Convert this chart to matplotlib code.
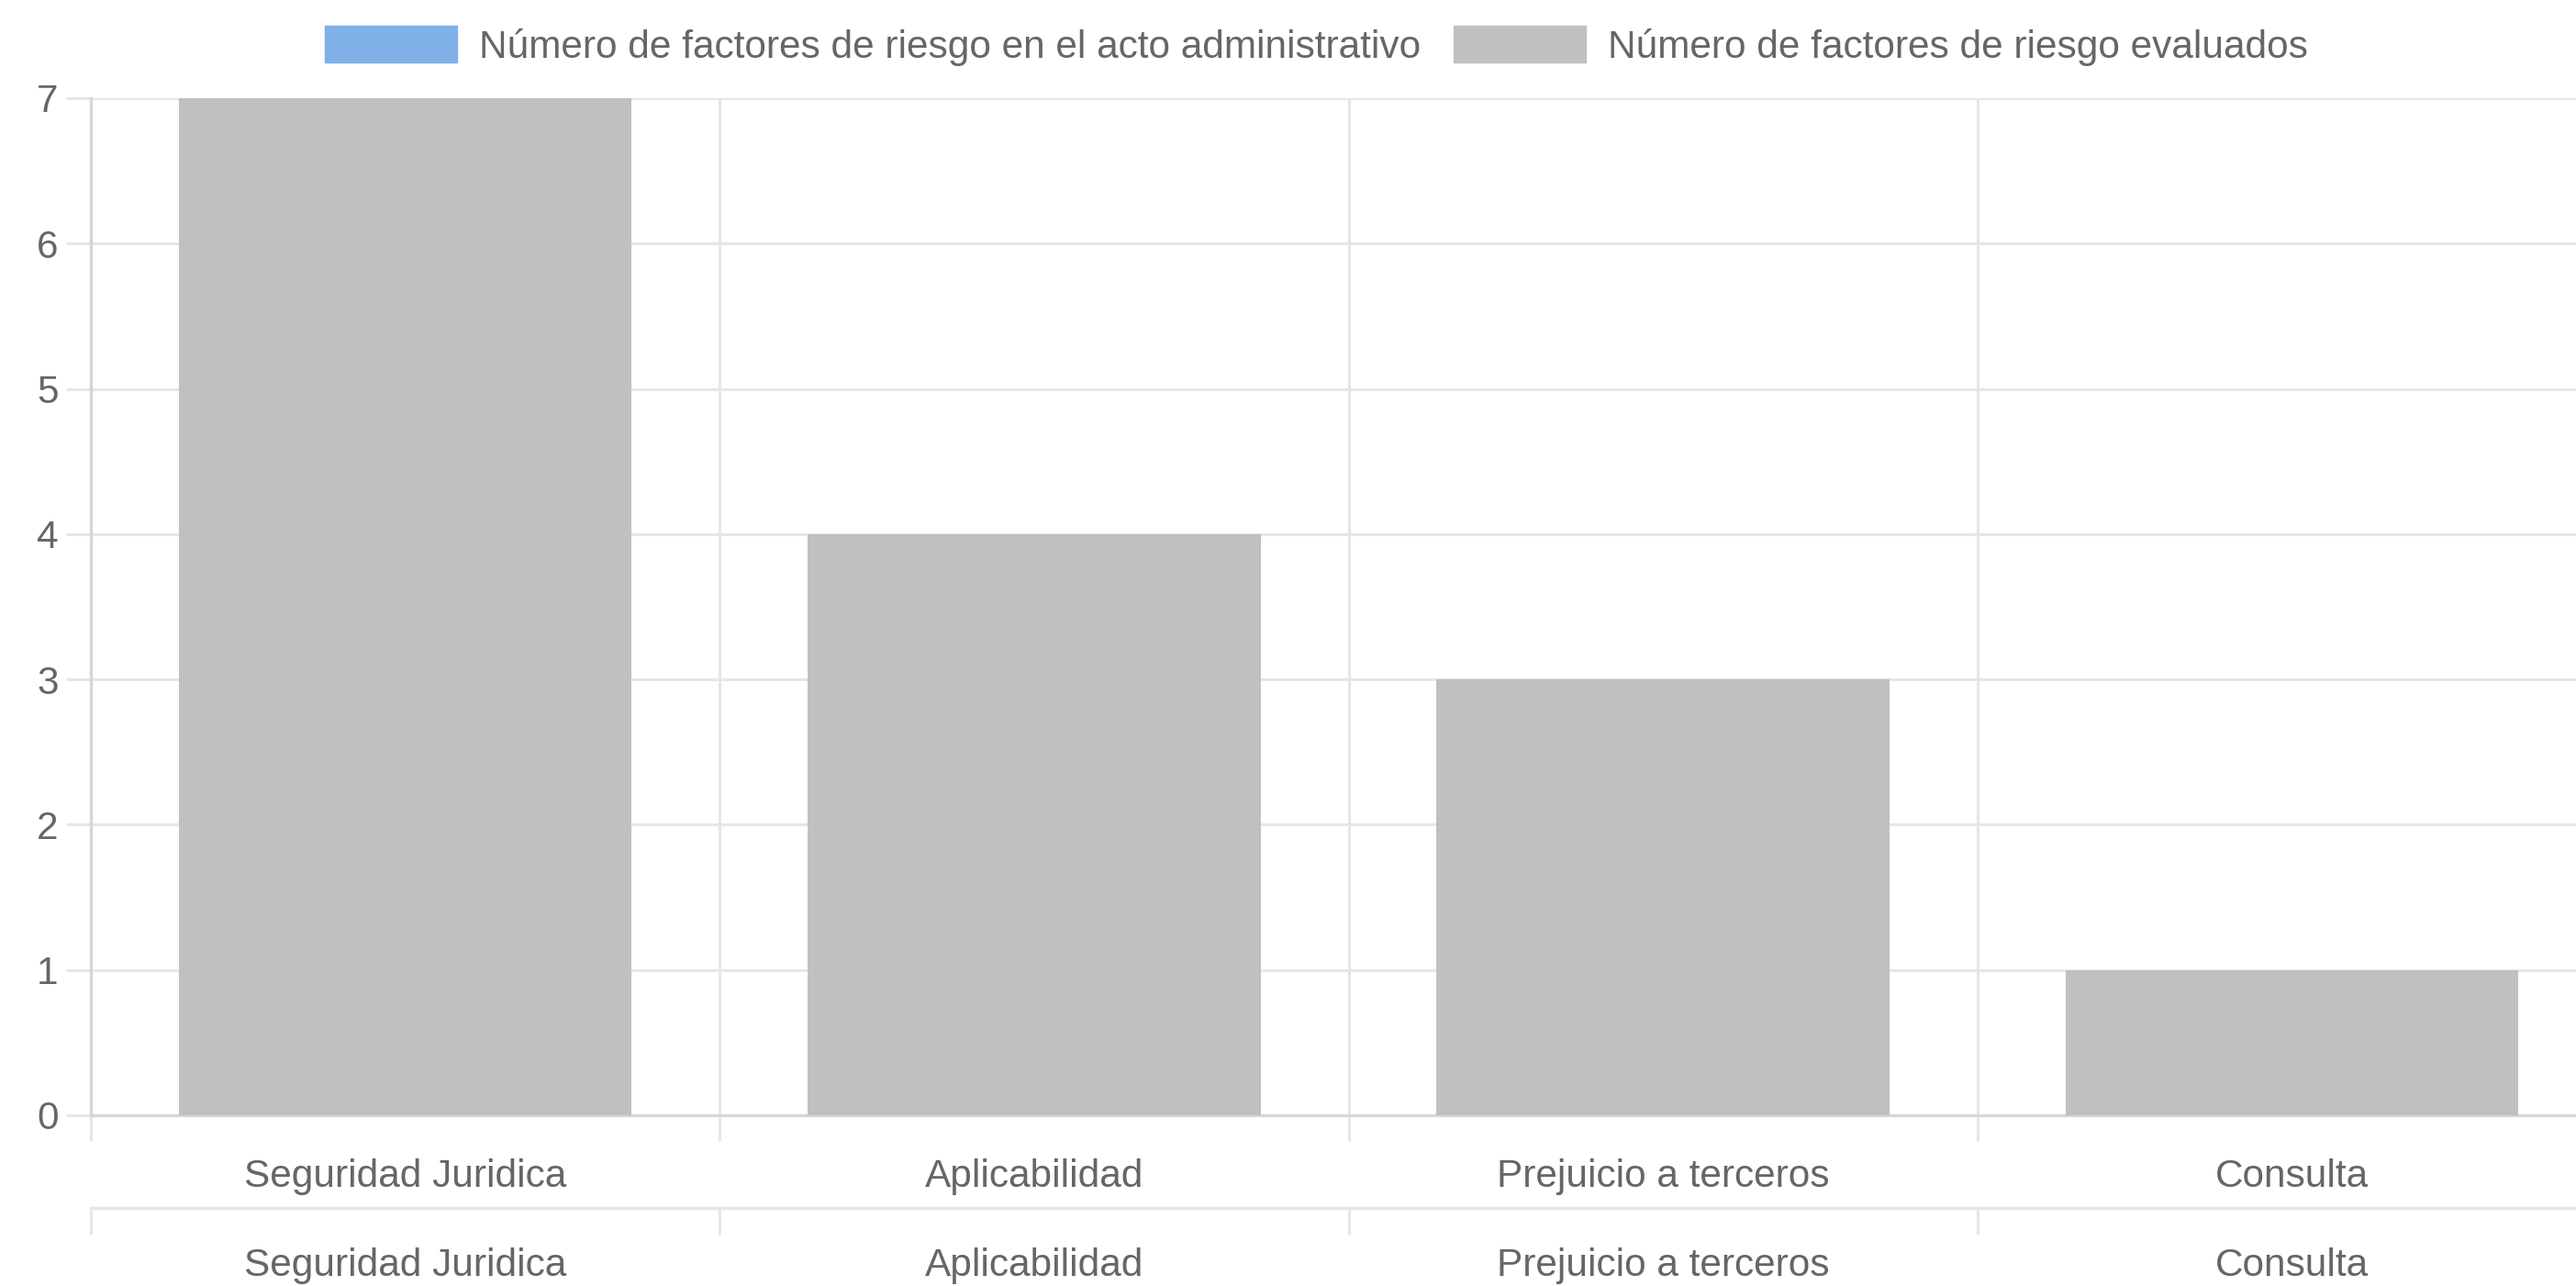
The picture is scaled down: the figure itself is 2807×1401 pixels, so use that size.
import matplotlib
matplotlib.use("Agg")
import matplotlib.pyplot as plt
from matplotlib.patches import Patch
import numpy as np

plt.rcParams['font.family'] = ['Liberation Sans', 'DejaVu Sans']

categories = ["Seguridad Juridica", "Aplicabilidad", "Prejuicio a terceros", "Consulta"]
series_names = ["Número de factores de riesgo en el acto administrativo",
                "Número de factores de riesgo evaluados"]
acto_values = [0, 0, 0, 0]
evaluados_values = [7, 4, 3, 1]
y_ticks = [0, 1, 2, 3, 4, 5, 6, 7]

W, H = 2807, 1401
fig = plt.figure(figsize=(W / 100, H / 100), dpi=100)
fig.patch.set_facecolor('white')

left_px, right_px, top_px, bottom_px = 99, 2840, 107, 1215
ax = fig.add_axes([left_px / W, 1 - bottom_px / H,
                   (right_px - left_px) / W, (bottom_px - top_px) / H])

x = np.arange(len(categories))
blue = '#80b0e8'
grey = '#c0c0c0'
ax.bar(x, acto_values, width=0.72, color=blue, zorder=2)
ax.bar(x, evaluados_values, width=0.72, color=grey, zorder=3)

ax.set_xlim(-0.5, len(categories) - 0.5)
ax.set_ylim(0, 7)

grid_c = '#e6e6e6'
axis_c = '#d6d6d6'
txt_c = '#666666'
fs = 30.5

ax.set_axisbelow(True)
for s in ['top', 'right']:
    ax.spines[s].set_visible(False)
ax.spines['left'].set_color(axis_c)
ax.spines['left'].set_linewidth(2.4)
ax.spines['bottom'].set_color(axis_c)
ax.spines['bottom'].set_linewidth(2.4)

ax.set_yticks(y_ticks)
ax.set_yticklabels([str(v) for v in y_ticks])
ax.tick_params(axis='y', which='major', length=19.5, width=2.2, color=grid_c,
               labelsize=fs, labelcolor=txt_c, pad=6)
ax.yaxis.grid(True, color=grid_c, linewidth=2.2)

bounds = np.arange(-0.5, len(categories), 1.0)
ax.set_xticks(bounds)
ax.set_xticklabels([''] * len(bounds))
ax.set_xticks(x, minor=True)
ax.set_xticklabels(categories, minor=True)
ax.tick_params(axis='x', which='major', length=20, width=2.2, color=grid_c)
ax.tick_params(axis='x', which='minor', length=0, labelsize=fs,
               labelcolor=txt_c, pad=34)
ax.xaxis.grid(True, which='major', color=grid_c, linewidth=2.2)

# second x axis (one per dataset)
loc2 = -(1316 - bottom_px) / (bottom_px - top_px)
sec = ax.secondary_xaxis(loc2)
sec.spines['bottom'].set_color(grid_c)
sec.spines['bottom'].set_linewidth(2.4)
sec.set_xticks(bounds)
sec.set_xticklabels([''] * len(bounds))
sec.set_xticks(x, minor=True)
sec.set_xticklabels(categories, minor=True)
sec.tick_params(axis='x', which='major', length=21, width=2.2, color=grid_c)
sec.tick_params(axis='x', which='minor', length=0, labelsize=fs,
                labelcolor=txt_c, pad=31)

handles = [Patch(facecolor=blue, edgecolor=blue, label=series_names[0]),
           Patch(facecolor=grey, edgecolor=grey, label=series_names[1])]
fig.legend(handles=handles, loc='center',
           bbox_to_anchor=((366 + 2503) / 2 / W, 1 - 50 / H),
           ncol=2, frameon=False, fontsize=fs, labelcolor=txt_c,
           handlelength=3.4, handleheight=1.08, handletextpad=0.55,
           columnspacing=0.86, borderpad=0, borderaxespad=0)

fig.savefig('out.png', dpi=100)
